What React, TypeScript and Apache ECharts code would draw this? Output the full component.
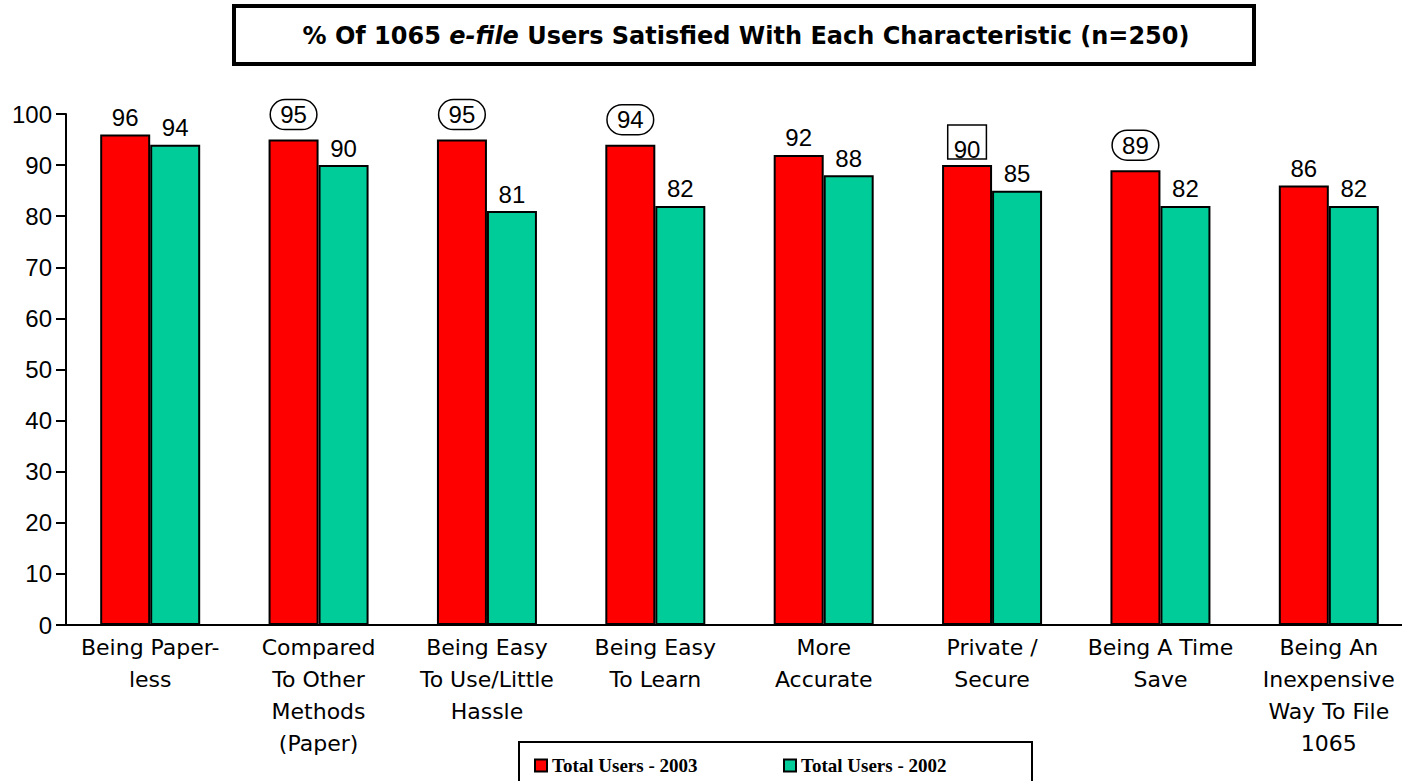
import React, { useEffect, useRef } from "react";
import * as echarts from "echarts";

const categories = [
  "Being Paper-\nless",
  "Compared\nTo Other\nMethods\n(Paper)",
  "Being Easy\nTo Use/Little\nHassle",
  "Being Easy\nTo Learn",
  "More\nAccurate",
  "Private /\nSecure",
  "Being A Time\nSave",
  "Being An\nInexpensive\nWay To File\n1065",
];
const users2003 = [96, 95, 95, 94, 92, 90, 89, 86];
const users2002 = [94, 90, 81, 82, 88, 85, 82, 82];
// annotation marks on 2003 labels: "ellipse", "box" or ""
const marks2003 = ["", "ellipse", "ellipse", "ellipse", "", "box", "ellipse", ""];
const yTicks = { min: 0, max: 100, interval: 10 };
const seriesNames = ["Total Users - 2003", "Total Users - 2002"];

export default function App() {
  const ref = useRef<HTMLDivElement>(null);
  useEffect(() => {
    if (!ref.current) return;
    const chart = echarts.init(ref.current, null, { renderer: "svg" });
    const labelBase = {
      show: true,
      position: "top",
      distance: 5,
      color: "#000",
      fontFamily: "Liberation Sans, Arial",
      fontSize: 24,
    };
    const redData = users2003.map((v, i) => {
      const m = marks2003[i];
      if (m === "ellipse") {
        return {
          value: v,
          label: {
            ...labelBase,
            borderColor: "#000",
            borderWidth: 1.5,
            borderRadius: 16,
            padding: [3, 10, 3, 10],
            lineHeight: 24,
            distance: 10,
          },
        };
      }
      if (m === "box") {
        return {
          value: v,
          label: {
            ...labelBase,
            borderColor: "#000",
            borderWidth: 1.5,
            borderRadius: 0,
            padding: [14, 6, 0, 6],
            lineHeight: 20,
            distance: 6,
          },
        };
      }
      return { value: v };
    });
    const legendText = {
      fontFamily: "Liberation Serif",
      fontWeight: "bold",
      fontSize: 19,
      color: "#000",
    };
    chart.setOption({
      animation: false,
      backgroundColor: "#fff",
      grid: { left: 66, top: 114, width: 1347, height: 511, containLabel: false },
      graphic: [
        {
          type: "rect",
          shape: { x: 234, y: 6, width: 1020, height: 58 },
          style: { fill: "#fff", stroke: "#000", lineWidth: 4 },
        },
        {
          type: "text",
          x: 746,
          y: 36,
          style: {
            text: "{a|% Of 1065 }{b|e-file}{a| Users Satisfied With Each Characteristic (n=250)}",
            align: "center",
            verticalAlign: "middle",
            rich: {
              a: { fontFamily: "DejaVu Sans", fontWeight: "bold", fontSize: 24, fill: "#000" },
              b: { fontFamily: "DejaVu Sans", fontWeight: "bold", fontStyle: "italic", fontSize: 24, fill: "#000" },
            },
          },
        },
        {
          type: "rect",
          shape: { x: 519, y: 742, width: 513, height: 40 },
          style: { fill: "#fff", stroke: "#000", lineWidth: 2 },
          z: 0,
        },
      ],
      legend: [
        {
          left: 529,
          top: 751,
          itemWidth: 12,
          itemHeight: 12,
          icon: "rect",
          z: 10,
          textStyle: legendText,
          data: [seriesNames[0]],
        },
        {
          left: 778,
          top: 751,
          itemWidth: 12,
          itemHeight: 12,
          icon: "rect",
          z: 10,
          textStyle: legendText,
          data: [seriesNames[1]],
        },
      ],
      xAxis: {
        type: "category",
        data: categories,
        axisLine: { show: true, lineStyle: { color: "#000", width: 2 } },
        axisTick: { show: false },
        axisLabel: {
          interval: 0,
          color: "#000",
          fontFamily: "DejaVu Sans",
          fontSize: 22,
          lineHeight: 32,
          margin: 6,
        },
      },
      yAxis: {
        type: "value",
        min: yTicks.min,
        max: yTicks.max,
        interval: yTicks.interval,
        axisLine: { show: true, lineStyle: { color: "#000", width: 2 } },
        axisTick: { show: true, length: 10, lineStyle: { color: "#000", width: 2 } },
        splitLine: { show: false },
        axisLabel: {
          color: "#000",
          fontFamily: "Liberation Sans, Arial",
          fontSize: 24,
          margin: 14,
        },
      },
      series: [
        {
          name: seriesNames[0],
          type: "bar",
          data: redData,
          barWidth: 50,
          barGap: "0%",
          itemStyle: { color: "#FF0000", borderColor: "#000", borderWidth: 2 },
          label: labelBase,
        },
        {
          name: seriesNames[1],
          type: "bar",
          data: users2002,
          barWidth: 50,
          barGap: "0%",
          itemStyle: { color: "#00CC99", borderColor: "#000", borderWidth: 2 },
          label: labelBase,
        },
      ],
    });
    return () => chart.dispose();
  }, []);
  return (
    <div style={{ position: "absolute", left: 0, top: 0, width: 1402, height: 781, overflow: "hidden", background: "#fff" }}>
      <div ref={ref} style={{ position: "absolute", left: 0, top: 0, width: 1430, height: 781 }} />
    </div>
  );
}
